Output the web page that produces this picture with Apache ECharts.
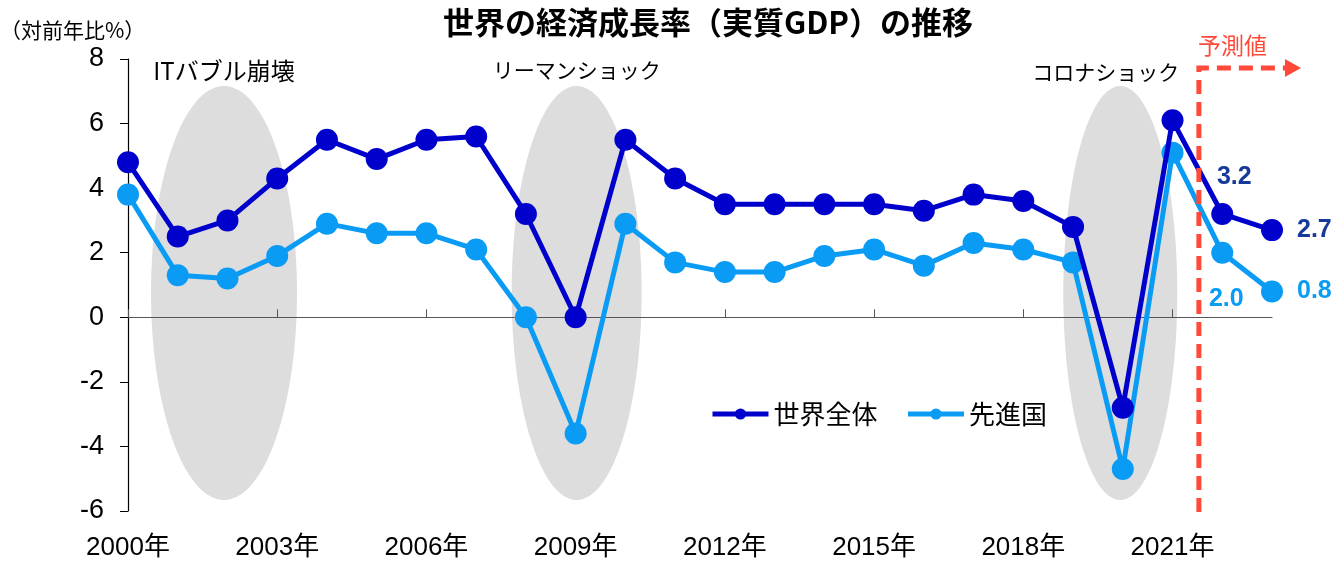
<!DOCTYPE html>
<html>
<head>
<meta charset="utf-8">
<script src="https://cdn.jsdelivr.net/npm/echarts@6/dist/echarts.min.js"></script>
<style>
html,body{margin:0;padding:0;background:#fff;}
#chart{width:1342px;height:566px;}
</style>
</head>
<body>
<div id="chart"></div>
<script>
// 年（カテゴリ）
var years = ['2000年','2001年','2002年','2003年','2004年','2005年','2006年','2007年','2008年','2009年','2010年','2011年',
    '2012年','2013年','2014年','2015年','2016年','2017年','2018年','2019年','2020年','2021年','2022年','2023年'];
// 世界全体
var worldData = [4.8,2.5,3.0,4.3,5.5,4.9,5.5,5.6,3.2,0.0,5.5,4.3,3.5,3.5,3.5,3.5,3.3,3.8,3.6,2.8,-2.8,6.1,3.2,2.7];
// 先進国
var advData = [3.8,1.3,1.2,1.9,2.9,2.6,2.6,2.1,0.0,-3.6,2.9,1.7,1.4,1.4,1.9,2.1,1.6,2.3,2.1,1.7,-4.7,5.1,2.0,0.8];
// 影の楕円（中心の年, ラベル）
var shocks = [
    {idx: 1.93, label: 'ITバブル崩壊', rx: 73, size: 24, tx: 1.93, dy: 12},
    {idx: 9.02, label: 'リーマンショック', rx: 65, size: 21, tx: 9.02, dy: 11},
    {idx: 19.95, label: 'コロナショック', rx: 57, size: 21, tx: 19.66, dy: 13}
];

var font = '"Liberation Sans", "Noto Sans CJK JP", sans-serif';
var jpFont = '"Noto Sans CJK JP", sans-serif';
var chart = echarts.init(document.getElementById('chart'));

var labelStyle = {fontFamily: font, fontSize: 25, fontWeight: 'bold',
    formatter: function (p) { return p.value.toFixed(1); }};

var option = {
    backgroundColor: '#fff',
    animation: false,
    title: {
        text: '世界の経済成長率（実質GDP）の推移',
        left: 703, top: 2, textAlign: 'center',
        textStyle: {fontFamily: jpFont, fontSize: 31, fontWeight: 'bold', color: '#000'}
    },
    legend: {
        left: 705, top: 396,
        itemWidth: 56, itemHeight: 14, itemGap: 28,
        lineStyle: {width: 5},
        textStyle: {fontFamily: jpFont, fontSize: 26, color: '#000'},
        data: ['世界全体', '先進国']
    },
    grid: {left: 128, right: 70, top: 59, bottom: 55},
    xAxis: [{
        type: 'category', data: years, boundaryGap: false, position: 'bottom',
        axisLine: {onZero: true, lineStyle: {color: '#555', width: 1.2}},
        axisTick: {show: true, inside: true, interval: 2, length: 8, lineStyle: {color: '#555'}},
        axisLabel: {show: false}
    }, {
        type: 'category', data: years, boundaryGap: false, position: 'bottom',
        axisLine: {show: false, onZero: false}, axisTick: {show: false},
        axisLabel: {interval: 2, margin: 24, fontFamily: font, fontSize: 26, color: '#000'}
    }],
    yAxis: {
        type: 'value', min: -6, max: 8, interval: 2,
        axisLine: {show: true, lineStyle: {color: '#000', width: 1.2}},
        axisTick: {show: true, length: 8, lineStyle: {color: '#000'}},
        splitLine: {show: false},
        axisLabel: {margin: 24, fontFamily: font, fontSize: 27, color: '#000'}
    },
    series: [{
        name: '世界全体', type: 'line', z: 4,
        data: worldData.map(function (v, i) {
            if (i === 22) return {value: v, label: {show: true, position: 'top', offset: [12, -8]}};
            if (i === 23) return {value: v, label: {show: true, position: 'right', distance: 14}};
            return v;
        }),
        symbol: 'circle', symbolSize: 22,
        itemStyle: {color: '#0000CC'},
        lineStyle: {width: 5, color: '#0000CC'},
        label: Object.assign({color: '#17399A'}, labelStyle)
    }, {
        name: '先進国', type: 'line', z: 3,
        data: advData.map(function (v, i) {
            if (i === 22) return {value: v, label: {show: true, position: 'bottom', offset: [4, 18]}};
            if (i === 23) return {value: v, label: {show: true, position: 'right', distance: 14}};
            return v;
        }),
        symbol: 'circle', symbolSize: 22,
        itemStyle: {color: '#0A9BF5'},
        lineStyle: {width: 5, color: '#0A9BF5'},
        label: Object.assign({color: '#0A9BF5'}, labelStyle)
    }]
};

chart.setOption(option);

// 楕円・注記・予測線
var graphics = [];
var yCenter = chart.convertToPixel({yAxisIndex: 0}, 0.75);
var top8 = chart.convertToPixel({yAxisIndex: 0}, 8);
var bot6 = chart.convertToPixel({yAxisIndex: 0}, -6);
var x0 = chart.convertToPixel({xAxisIndex: 0}, 0);
var x1 = chart.convertToPixel({xAxisIndex: 0}, 1);
var step = x1 - x0;
shocks.forEach(function (s) {
    graphics.push({
        type: 'ellipse', z: 0,
        shape: {cx: x0 + s.idx * step, cy: yCenter, rx: s.rx, ry: 207},
        style: {fill: '#DDDDDD'}
    });
    graphics.push({
        type: 'text', z: 5, x: x0 + s.tx * step, y: top8 + s.dy,
        style: {text: s.label, fontFamily: jpFont, fontSize: s.size, fill: '#000',
            textAlign: 'center', textVerticalAlign: 'middle'}
    });
});
var fx = x0 + 21.53 * step;
var fy = top8 + 9;
graphics.push({
    type: 'polyline', z: 6,
    shape: {points: [[fx, bot6 + 1], [fx, fy], [1288, fy]]},
    style: {stroke: '#FF4A3A', lineWidth: 5, lineDash: [14, 8], fill: null}
});
graphics.push({
    type: 'polygon', z: 6,
    shape: {points: [[1285, fy - 9], [1301, fy], [1285, fy + 9]]},
    style: {fill: '#FF4A3A'}
});
graphics.push({
    type: 'text', z: 6, x: fx - 1, y: 45,
    style: {text: '予測値', fontFamily: jpFont, fontSize: 23, fill: '#FF4A3A',
        textAlign: 'left', textVerticalAlign: 'middle'}
});
graphics.push({
    type: 'text', z: 6, x: 0, y: 30,
    style: {text: '（対前年比%）', fontFamily: jpFont, fontSize: 21, fill: '#000',
        textAlign: 'left', textVerticalAlign: 'middle'}
});
chart.setOption({graphic: graphics});
</script>
</body>
</html>
